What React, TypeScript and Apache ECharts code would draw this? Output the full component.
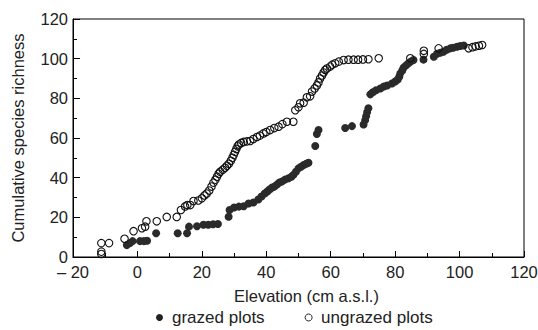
import React, { useEffect, useRef } from "react";
import * as echarts from "echarts";

const xTicks = [-20, 0, 20, 40, 60, 80, 100, 120];
const yTicks = [0, 20, 40, 60, 80, 100, 120];

const grazedX = [
  -3.3, -2.3, -1.5, 0.8, 2, 3, 5.8, 12.5, 15.4, 16, 18.5, 20.5, 22, 23.5, 25,
  28.3, 28.6, 30, 31.5, 33, 34.5, 36, 37.5, 38.5, 39.5, 40.3, 41, 41.8, 42.5,
  43.3, 44, 44.8, 45.8, 46.9, 47.8, 48.4, 49.2, 50, 50.8, 51.6, 52.4, 53.1,
  55.2, 55.7, 56.2, 64.5, 66.6, 70.2, 70.7, 71, 71.3, 71.7, 72.3, 73, 74, 75.4,
  76.5, 77.5, 79, 80, 80.8, 81.3, 81.6, 82.2, 82.6, 83.3, 84, 84.8, 85.7, 88.8,
  92, 93, 94, 95, 96, 97.1, 98, 99.2, 100.2, 101.3,
];
const grazedY = [
  6, 7, 8, 8, 8, 8.2, 12, 12, 12, 15.3, 15.5, 16.3, 16.3, 16.5, 16.6,
  20.3, 23.7, 25, 25.4, 25.6, 27, 27.5, 29, 30.5, 32, 33, 34, 35, 35.5,
  36.5, 37.5, 38, 39, 39.7, 40.5, 41.4, 43, 44.7, 45.5, 46.4, 47, 47.5,
  56, 62, 64, 65, 66, 66.8, 69, 71, 73, 75, 82, 83, 84, 85,
  86, 86.5, 87.5, 88.5, 89.5, 91, 92.6, 94, 95.5, 96.5, 97.5, 98.5, 99.3, 99.5,
  101, 102.5, 103, 103.5, 104.5, 105.2, 105.5, 106, 106.4, 106.6,
];

const ungrazedX = [
  -11.2, -11.2, -11.2, -8.8, -4, -1.2, 1.4, 2.4, 2.8, 6, 9.1, 12.2, 13.5, 14.8,
  15.5, 16.4, 17.4, 18.9, 20, 20.8, 21.5, 22.3, 23, 23.6, 24.2, 24.7, 25.2, 25.7,
  26.5, 27.2, 27.8, 28.4, 29, 29.5, 29.9, 30.3, 30.7, 31.1, 31.5, 32.2, 33, 34,
  35, 36, 37.1, 38, 39.1, 40, 41.2, 42.5, 43.8, 45, 46.4, 48.4, 49, 50, 50.5,
  51.6, 52.6, 53.6, 54.2, 55, 55.7, 56.2, 56.7, 57.3, 57.8, 58.3, 58.8, 59.8,
  60.5, 61.4, 62.5, 64, 65.5, 67.1, 68.5, 70, 71.7, 74.9, 84.7, 88.9, 88.9, 93.5,
  102.8, 104, 105, 106, 107,
];
const ungrazedY = [
  1.5, 2.7, 7, 7, 9.2, 13, 14.5, 15.3, 18, 18, 20.2, 20.2, 23.7, 25.5,
  26.2, 26.2, 28.2, 28.5, 29.6, 31, 32, 33.5, 35.5, 37.5, 39, 40.5, 42, 43,
  44, 45, 46, 47, 48.5, 50, 51.5, 53, 54.5, 55.8, 56.7, 57.5, 58, 58.3,
  58.5, 59.5, 60.5, 61.2, 62.3, 63, 64, 65, 65.7, 67, 68.2, 68.2, 74, 75.5, 77.5,
  77.8, 80.5, 81, 83.4, 85, 86.5, 88, 90, 91.5, 93, 94.3, 95, 96,
  97, 97.7, 98.5, 99.3, 99.5, 99.5, 99.5, 99.6, 99.7, 100.2, 100.2, 102.4, 104, 105.2,
  105.2, 105.8, 106.2, 106.5, 106.9,
];

const FONT = "Liberation Sans, Arial, Helvetica, sans-serif";
const TXT = "#222";

export default function App() {
  const ref = useRef<HTMLDivElement>(null);
  useEffect(() => {
    if (!ref.current) return;
    const chart = echarts.init(ref.current, undefined, { renderer: "svg" });
    const fmtX = (v: number) => {
      const t = xTicks.find((k) => k === v);
      if (t === undefined) return "";
      return t < 0 ? "\u2013 " + Math.abs(t) : String(t);
    };
    chart.setOption({
      animation: false,
      backgroundColor: "#fff",
      textStyle: { fontFamily: FONT },
      grid: {
        left: 73,
        right: 14,
        top: 19,
        bottom: 73,
        containLabel: false,
        outerBoundsMode: "none",
        show: true,
        borderColor: "#000",
        borderWidth: 1,
        backgroundColor: "transparent",
      },
      legend: {
        left: 156,
        top: 309,
        padding: 0,
        itemWidth: 7,
        itemHeight: 7,
        itemGap: 40,
        textStyle: { fontSize: 17, color: TXT, fontFamily: FONT, padding: [0, 0, 0, 4] },
        data: [
          { name: "grazed plots", icon: "circle", itemStyle: { color: "#222", borderWidth: 0 } },
          {
            name: "ungrazed plots",
            icon: "circle",
            itemStyle: { color: "#fff", borderColor: "#222", borderWidth: 1 },
          },
        ],
      },
      xAxis: {
        type: "value",
        min: xTicks[0],
        max: xTicks[xTicks.length - 1],
        interval: 20,
        name: "Elevation (cm a.s.l.)",
        nameLocation: "middle",
        nameGap: 30,
        nameTextStyle: { fontSize: 16.5, color: TXT, fontFamily: FONT, padding: [0, 0, 0, 16] },
        axisLine: { show: true, onZero: false, lineStyle: { color: "#000", width: 1 } },
        axisTick: { show: true, inside: true, length: 6, lineStyle: { color: "#000" } },
        minorTick: { show: true, splitNumber: 2, length: 4, lineStyle: { color: "#000" } },
        splitLine: { show: false },
        axisLabel: {
          fontSize: 16.5,
          lineHeight: 13,
          color: TXT,
          fontFamily: FONT,
          margin: 8,
          formatter: fmtX,
        },
      },
      yAxis: {
        type: "value",
        min: yTicks[0],
        max: yTicks[yTicks.length - 1],
        interval: 20,
        name: "Cumulative species richness",
        nameLocation: "middle",
        nameGap: 39,
        nameRotate: 90,
        nameTextStyle: { fontSize: 16.5, color: TXT, fontFamily: FONT, padding: [0, 0, 8, 0] },
        axisLine: { show: true, onZero: false, lineStyle: { color: "#000", width: 1 } },
        axisTick: { show: true, inside: true, length: 7, lineStyle: { color: "#000" } },
        minorTick: { show: true, splitNumber: 2, length: 4, lineStyle: { color: "#000" } },
        splitLine: { show: false },
        axisLabel: { fontSize: 16.5, lineHeight: 13, color: TXT, fontFamily: FONT, margin: 5 },
      },
      series: [
        {
          name: "grazed plots",
          type: "scatter",
          symbol: "circle",
          symbolSize: 8,
          itemStyle: { color: "#2a2a2a", opacity: 1 },
          data: grazedX.map((x, i) => [x, grazedY[i]]),
        },
        {
          name: "ungrazed plots",
          type: "scatter",
          symbol: "circle",
          symbolSize: 7.5,
          itemStyle: { color: "transparent", borderColor: "#111", borderWidth: 1.1, opacity: 1 },
          data: ungrazedX.map((x, i) => [x, ungrazedY[i]]),
        },
      ],
    });
    return () => chart.dispose();
  }, []);
  return (
    <div
      ref={ref}
      style={{ position: "fixed", left: 0, top: 0, width: 538, height: 330 }}
    />
  );
}
